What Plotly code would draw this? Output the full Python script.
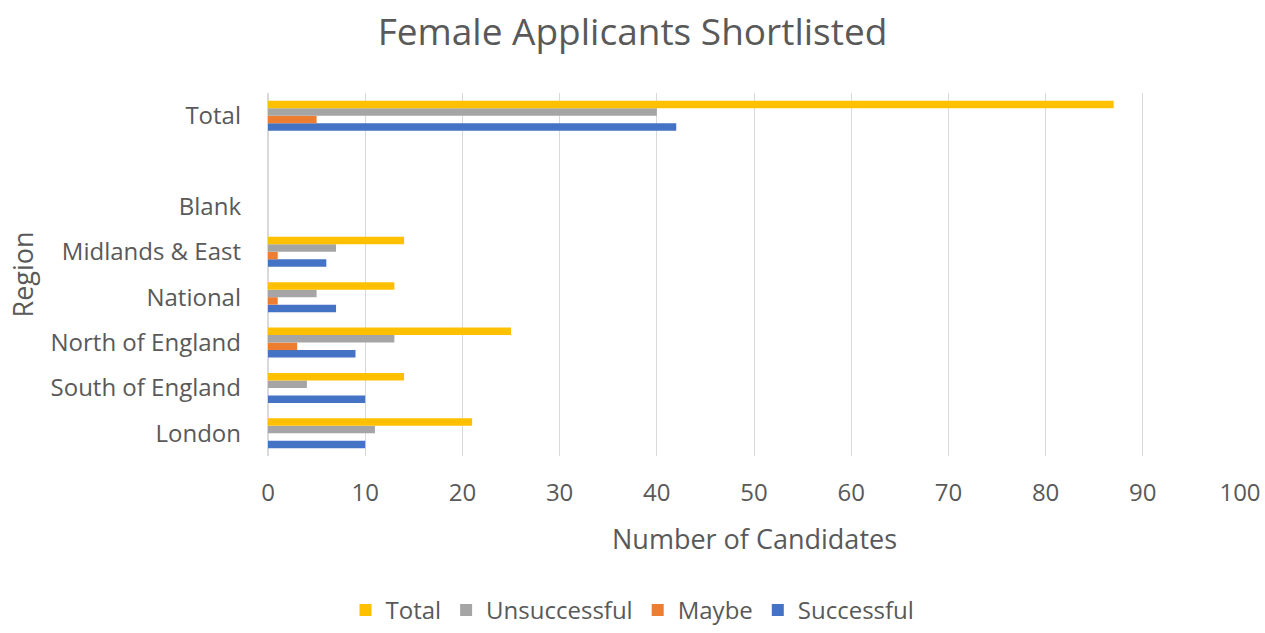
import plotly.graph_objects as go

# ── Data ──────────────────────────────────────────────────────────────────────
regions = ["London", "South of England", "North of England", "National",
           "Midlands & East", "Blank", " ", "Total"]
successful = [10, 10, 9, 7, 6, None, None, 42]
maybe = [0, 0, 3, 1, 1, None, None, 5]
unsuccessful = [11, 4, 13, 5, 7, None, None, 40]
total = [21, 14, 25, 13, 14, None, None, 87]

x_ticks = list(range(0, 101, 10))

FONT = "Open Sans"
TEXT = "#595959"

# ── Figure ────────────────────────────────────────────────────────────────────
fig = go.Figure()
series = [
    ("Successful", successful, "#4472C4"),
    ("Maybe", maybe, "#ED7D31"),
    ("Unsuccessful", unsuccessful, "#A5A5A5"),
    ("Total", total, "#FFC000"),
]
for name, vals, color in series:
    fig.add_trace(go.Bar(
        y=regions, x=vals, name=name, orientation="h",
        marker=dict(color=color, line=dict(width=0)),
    ))

fig.update_layout(
    title=dict(text="Female Applicants Shortlisted", x=0.5, xanchor="center",
               y=1 - 32 / 633, yref="container", yanchor="middle",
               font=dict(family=FONT, size=37, color=TEXT)),
    barmode="group",
    bargap=0.34,
    bargroupgap=0,
    plot_bgcolor="white",
    paper_bgcolor="white",
    font=dict(family=FONT, color=TEXT, size=24),
    margin=dict(l=268, r=25, t=93, b=177),
    legend=dict(orientation="h", traceorder="reversed", xref="container",
                x=0.5, xanchor="center", yref="container", y=0,
                yanchor="bottom", font=dict(size=24, color=TEXT)),
    xaxis=dict(
        range=[0, 100], tickvals=x_ticks, showgrid=True, gridcolor="#D9D9D9",
        gridwidth=1, zeroline=True, zerolinecolor="#D9D9D9", automargin=False,
        tickfont=dict(size=24, color=TEXT), ticks="", ticklabelstandoff=20,
    ),
    yaxis=dict(
        categoryorder="array", categoryarray=regions, automargin=False,
        tickfont=dict(size=24, color=TEXT), ticks="", showgrid=False,
        ticklabelstandoff=26,
    ),
    annotations=[
        dict(text="Number of Candidates", xref="paper", yref="paper",
             x=0.5, y=-(538 - 456) / 363, xanchor="center", yanchor="middle",
             showarrow=False, font=dict(size=27, color=TEXT)),
        dict(text="Region", xref="paper", yref="paper",
             x=-(268 - 22) / 972, y=0.5, xanchor="center", yanchor="middle",
             textangle=-90, showarrow=False, font=dict(size=27, color=TEXT)),
    ],
    width=1265, height=633,
)

fig.write_html("out.html", config={"displayModeBar": False},
               post_script="document.body.style.margin='0';")
